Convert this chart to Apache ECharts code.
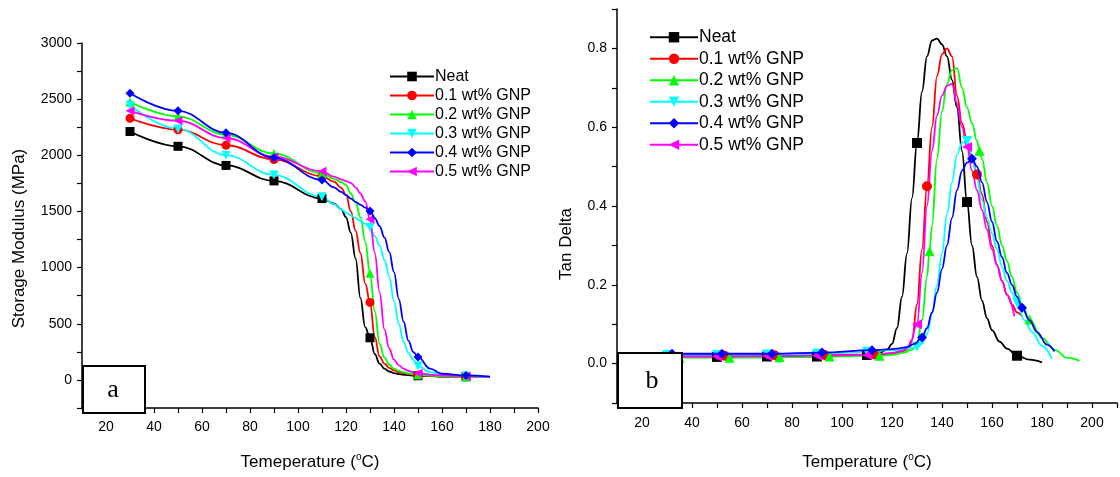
<!DOCTYPE html>
<html>
<head>
<meta charset="utf-8">
<script src="https://cdn.jsdelivr.net/npm/echarts@6/dist/echarts.min.js"></script>
<style>
  html, body { margin: 0; padding: 0; background: #fff; }
  #main { width: 1120px; height: 477px; }
</style>
</head>
<body>
<div id="main"></div>
<script>
// legend names / markers
var names = ['Neat', '0.1 wt% GNP', '0.2 wt% GNP', '0.3 wt% GNP', '0.4 wt% GNP', '0.5 wt% GNP'];
var colors = ['#000000', '#ff0000', '#00ff00', '#00ffff', '#0000ff', '#ff00ff'];
var symbols = ['rect', 'circle', 'triangle', 'triangle', 'diamond', 'triangle'];
var rotates = [0, 0, 0, 180, 0, 90];

// (a) storage modulus, MPa
var tempA = [30,50,70,90,110,115,118,120,122,124,126,128,130,132,134,136,138,140,142,144,146,148,150,155,160,170,180];
var marksA = [30,50,70,90,110,130,150,170];
var neatA  = [2212,2080,1910,1772,1615,1570,1520,1450,1310,1080,730,470,375,230,145,100,75,60,52,46,42,39,37,33,30,28,26];
var gnp01A = [2330,2228,2090,1963,1815,1765,1710,1650,1500,1330,1130,860,690,380,210,145,108,85,70,60,52,47,42,36,32,28,26];
var gnp02A = [2475,2347,2183,2016,1840,1790,1760,1735,1660,1580,1450,1230,950,610,320,200,135,100,80,68,58,50,45,38,33,28,26];
var gnp03A = [2446,2235,2001,1825,1630,1565,1520,1490,1465,1440,1415,1390,1357,1280,1195,1070,920,700,500,340,240,180,125,70,50,35,28];
var gnp04A = [2552,2396,2200,1978,1781,1715,1675,1645,1615,1585,1560,1535,1504,1440,1370,1270,1140,960,720,520,350,250,205,100,55,40,30];
var gnp05A = [2396,2308,2154,1987,1858,1810,1785,1770,1755,1715,1660,1590,1430,1130,780,450,280,180,130,100,80,68,60,47,40,33,28];

// (b) tan delta
var neatT = [30,50,70,90,110,115,118,120,122,124,126,128,130,132,134,136,138,140,142,144,146,148,150,152,154,156,158,160,163,166,170,175,180];
var neatB = [0.017,0.017,0.018,0.018,0.022,0.028,0.035,0.05,0.09,0.17,0.28,0.42,0.56,0.69,0.78,0.82,0.825,0.81,0.78,0.72,0.65,0.54,0.41,0.30,0.22,0.16,0.115,0.085,0.056,0.038,0.02,0.01,0.003];
var neatM = [30,50,70,90,110,130,150,170];

var gnp01T = [30,53,73,93,113,118,122,124,126,128,130,132,134,136,138,140,142,144,146,148,150,152,154,156,158,160,162,164,166,168,170,172];
var gnp01B = [0.02,0.02,0.021,0.022,0.023,0.025,0.028,0.031,0.036,0.06,0.15,0.29,0.45,0.60,0.73,0.785,0.80,0.78,0.68,0.61,0.565,0.52,0.48,0.43,0.36,0.30,0.25,0.21,0.175,0.15,0.13,0.12];
var gnp01M = [53,73,93,113,134,154];

var gnp02T = [30,35,55,75,95,115,120,124,128,130,132,134,135,136,138,140,142,144,146,148,150,152,154,155,156,158,160,162,164,166,168,170,172,175,180,185,190,195];
var gnp02B = [0.015,0.015,0.015,0.016,0.018,0.02,0.022,0.027,0.035,0.05,0.11,0.22,0.285,0.35,0.52,0.64,0.71,0.745,0.75,0.70,0.65,0.61,0.565,0.54,0.52,0.46,0.40,0.35,0.30,0.26,0.22,0.18,0.15,0.112,0.065,0.035,0.015,0.007];
var gnp02M = [35,55,75,95,115,135,155,175];

var gnp03T = [30,50,70,90,110,115,120,124,128,130,132,134,136,138,140,142,144,146,148,150,152,154,156,158,160,162,164,166,168,170,173,176,180,184];
var gnp03B = [0.022,0.022,0.023,0.025,0.03,0.033,0.034,0.036,0.04,0.043,0.05,0.075,0.125,0.2,0.28,0.38,0.46,0.53,0.56,0.565,0.53,0.47,0.415,0.37,0.33,0.29,0.245,0.21,0.18,0.155,0.11,0.08,0.045,0.012];
var gnp03M = [30,50,70,90,110,130,150,170];

var gnp04T = [30,32,52,72,92,112,118,122,126,129,132,134,136,138,140,142,144,146,148,150,152,154,156,158,160,162,164,166,168,170,172,175,178,182,185];
var gnp04B = [0.025,0.025,0.025,0.025,0.028,0.034,0.036,0.038,0.042,0.05,0.066,0.09,0.13,0.18,0.24,0.30,0.37,0.44,0.49,0.51,0.52,0.50,0.46,0.41,0.36,0.31,0.27,0.23,0.2,0.17,0.142,0.11,0.08,0.048,0.031];
var gnp04M = [32,52,72,92,112,132,152,172];

var gnp05T = [30,50,70,90,110,115,120,124,127,130,132,134,136,138,140,142,144,146,148,150,152,154,156,158,160,162,164,166,169];
var gnp05B = [0.018,0.018,0.019,0.02,0.022,0.024,0.027,0.032,0.045,0.10,0.23,0.40,0.54,0.63,0.68,0.705,0.71,0.66,0.60,0.55,0.49,0.44,0.39,0.34,0.29,0.25,0.21,0.175,0.12];
var gnp05M = [30,50,70,90,110,130,150];

var setsA = [neatA, gnp01A, gnp02A, gnp03A, gnp04A, gnp05A];
var setsB = [[neatT, neatB, neatM], [gnp01T, gnp01B, gnp01M], [gnp02T, gnp02B, gnp02M],
             [gnp03T, gnp03B, gnp03M], [gnp04T, gnp04B, gnp04M], [gnp05T, gnp05B, gnp05M]];

var FONT = 'Liberation Sans, Arial, sans-serif';

// only show a symbol where the original has a marker
function build(xs, ys, marks) {
    return xs.map(function (x, i) {
        if (marks.indexOf(x) >= 0) return [x, ys[i]];
        return { value: [x, ys[i]], symbol: 'none' };
    });
}

function makeSeries(k, idx, data, size) {
    return {
        name: names[k],
        type: 'line',
        xAxisIndex: idx,
        yAxisIndex: idx,
        data: data,
        smooth: 0.4,
        smoothMonotone: 'x',
        symbol: symbols[k],
        symbolRotate: rotates[k],
        symbolSize: size,
        showAllSymbol: true,
        lineStyle: { color: colors[k], width: 1.8 },
        itemStyle: { color: colors[k] },
        emphasis: { disabled: true },
        z: 2 + (k === 4 ? 1 : 0)
    };
}

var series = [];
for (var k = 0; k < 6; k++) {
    series.push(makeSeries(k, 0, build(tempA, setsA[k], marksA), 9));
}
for (var k = 0; k < 6; k++) {
    series.push(makeSeries(k, 1, build(setsB[k][0], setsB[k][1], setsB[k][2]), 10));
}

function xAxisOf(idx, max, name, gap, margin) {
    return {
        type: 'value', gridIndex: idx, min: 10, max: max, interval: 10,
        name: name, nameLocation: 'middle', nameGap: gap,
        nameTextStyle: {
            fontFamily: FONT, fontSize: 17, color: '#000', lineHeight: 20,
            rich: { sup: { fontFamily: FONT, fontSize: 10, color: '#000', verticalAlign: 'top', lineHeight: 20, padding: [0, 0, 8, 0] } }
        },
        axisLine: { onZero: false, lineStyle: { color: '#000', width: 1.5 } },
        axisTick: { length: 5, lineStyle: { color: '#000', width: 1.2 } },
        axisLabel: {
            fontFamily: FONT, fontSize: 14, color: '#000', margin: margin,
            formatter: function (v) { return (v % 20 === 0 && v <= 200) ? String(v) : ''; }
        },
        splitLine: { show: false }
    };
}

option = {
    animation: false,
    backgroundColor: '#fff',
    grid: [
        { left: 82, top: 43, width: 456, height: 370 },
        { left: 617, top: 9, width: 501, height: 399 }
    ],
    xAxis: [
        xAxisOf(0, 200, 'Temeperature ({sup|o}C)', 44, 12),
        xAxisOf(1, 210, 'Temperature ({sup|o}C)', 49, 13)
    ],
    yAxis: [
        {
            type: 'value', gridIndex: 0, min: -250, max: 3000, interval: 250,
            name: 'Storage Modulus (MPa)', nameLocation: 'middle', nameGap: 54,
            nameTextStyle: { fontFamily: FONT, fontSize: 17, color: '#000', padding: [0, 26, 0, 0] },
            axisLine: { onZero: false, lineStyle: { color: '#000', width: 1.5 } },
            axisTick: { length: 5, lineStyle: { color: '#000', width: 1.2 } },
            axisLabel: {
                fontFamily: FONT, fontSize: 14, color: '#000', margin: 10,
                formatter: function (v) { return (v >= 0 && v % 500 === 0) ? String(v) : ''; }
            },
            splitLine: { show: false }
        },
        {
            type: 'value', gridIndex: 1, min: -0.1, max: 0.9, interval: 0.1,
            name: 'Tan Delta', nameLocation: 'middle', nameGap: 42,
            nameTextStyle: { fontFamily: FONT, fontSize: 17, color: '#000', padding: [0, 76, 0, 0] },
            axisLine: { onZero: false, lineStyle: { color: '#000', width: 1.5 } },
            axisTick: { length: 5, lineStyle: { color: '#000', width: 1.2 } },
            axisLabel: {
                fontFamily: FONT, fontSize: 14, color: '#000', margin: 10,
                formatter: function (v) {
                    var t = Math.round(v * 10);
                    return (t >= 0 && t % 2 === 0) ? (t / 10).toFixed(1) : '';
                }
            },
            splitLine: { show: false }
        }
    ],
    legend: [
        {
            data: names, orient: 'vertical', left: 384, top: 63,
            itemWidth: 44, itemHeight: 12, itemGap: 2,
            selectedMode: false,
            textStyle: { fontFamily: FONT, fontSize: 16, color: '#000', lineHeight: 17, padding: [0, 0, 0, -4] }
        },
        {
            data: names, orient: 'vertical', left: 644, top: 23,
            itemWidth: 48, itemHeight: 13, itemGap: 3,
            selectedMode: false,
            textStyle: { fontFamily: FONT, fontSize: 17.5, color: '#000', lineHeight: 18.5, padding: [0, 0, 0, -4] }
        }
    ],
    // panel letters
    graphic: [
        { type: 'rect', z: 100, shape: { x: 83, y: 366, width: 62, height: 47 },
          style: { fill: '#fff', stroke: '#000', lineWidth: 2 } },
        { type: 'text', z: 101, x: 113, y: 390,
          style: { text: 'a', font: '26px "Liberation Serif", serif', fill: '#000', textAlign: 'center', textVerticalAlign: 'middle' } },
        { type: 'rect', z: 100, shape: { x: 618, y: 353, width: 64, height: 55 },
          style: { fill: '#fff', stroke: '#000', lineWidth: 2 } },
        { type: 'text', z: 101, x: 652, y: 381,
          style: { text: 'b', font: '26px "Liberation Serif", serif', fill: '#000', textAlign: 'center', textVerticalAlign: 'middle' } }
    ],
    series: series
};

var myChart = echarts.init(document.getElementById('main'));
myChart.setOption(option);
window.addEventListener("resize", function () {
    myChart.resize();
});
</script>
</body>
</html>
